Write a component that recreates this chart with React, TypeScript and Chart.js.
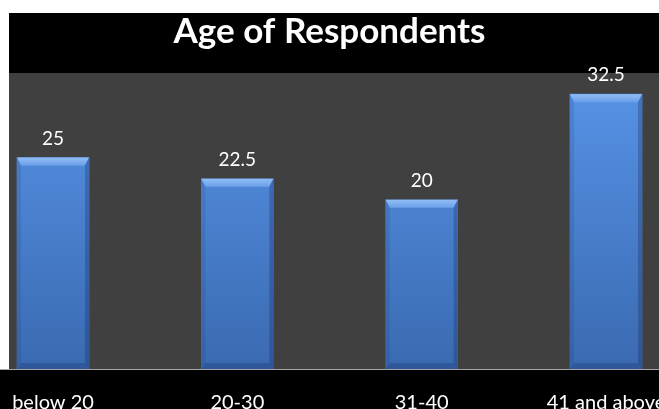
import React, { useEffect, useRef } from "react";
import { Chart, registerables } from "chart.js";
Chart.register(...registerables);

const categories = ["below 20", "20-30", "31-40", "41 and above"];
const values = [25, 22.5, 20, 32.5];
const titleText = "Age of Respondents";
const yMax = 35;

const FONT = "Lato, 'Open Sans', sans-serif";

export default function App() {
  const ref = useRef<HTMLCanvasElement>(null);

  useEffect(() => {
    const canvas = ref.current!;
    const plotLeft = 9;
    const topMargin = 13;
    const catPx = 184.33;
    const firstCenter = 53;
    const W = 659;
    const xMin = -firstCenter / catPx;
    const xMax = xMin + W / catPx;

    const bgPlugin = {
      id: "bgPlugin",
      beforeDraw(chart: any) {
        const { ctx, chartArea: ca, width, height } = chart;
        ctx.save();
        ctx.fillStyle = "#ffffff";
        ctx.fillRect(0, 0, width, height);
        ctx.fillStyle = "#000000";
        ctx.fillRect(plotLeft, topMargin, width - plotLeft, ca.bottom - topMargin);
        ctx.fillRect(0, ca.bottom, width, height - ca.bottom);
        ctx.fillStyle = "#404040";
        ctx.fillRect(plotLeft, ca.top, width - plotLeft, ca.bottom - ca.top);
        ctx.restore();
      },
    };

    const bevelPlugin = {
      id: "bevelPlugin",
      afterDatasetsDraw(chart: any) {
        const { ctx } = chart;
        const meta = chart.getDatasetMeta(0);
        ctx.save();
        meta.data.forEach((bar: any, i: number) => {
          const { x, y, base, width } = bar.getProps(["x", "y", "base", "width"], true);
          const l = x - width / 2;
          const r = x + width / 2;
          const t = y;
          const b = base;
          const bt = 8;
          const bs = 4;
          const bb = 6;
          const gt = ctx.createLinearGradient(0, t, 0, t + bt);
          gt.addColorStop(0, "#92bdf5");
          gt.addColorStop(1, "#6a9fea");
          ctx.fillStyle = gt;
          ctx.beginPath();
          ctx.moveTo(l, t);
          ctx.lineTo(r, t);
          ctx.lineTo(r - bs, t + bt);
          ctx.lineTo(l + bs, t + bt);
          ctx.closePath();
          ctx.fill();
          ctx.fillStyle = "rgba(20,40,90,0.12)";
          ctx.beginPath();
          ctx.moveTo(l, t);
          ctx.lineTo(l + bs, t + bt);
          ctx.lineTo(l + bs, b - bb);
          ctx.lineTo(l, b);
          ctx.closePath();
          ctx.fill();
          ctx.fillStyle = "rgba(10,25,70,0.25)";
          ctx.beginPath();
          ctx.moveTo(r, t);
          ctx.lineTo(r - bs, t + bt);
          ctx.lineTo(r - bs, b - bb);
          ctx.lineTo(r, b);
          ctx.closePath();
          ctx.fill();
          ctx.fillStyle = "rgba(10,25,70,0.22)";
          ctx.beginPath();
          ctx.moveTo(l, b);
          ctx.lineTo(l + bs, b - bb);
          ctx.lineTo(r - bs, b - bb);
          ctx.lineTo(r, b);
          ctx.closePath();
          ctx.fill();

          ctx.fillStyle = "#ffffff";
          ctx.font = `19px ${FONT}`;
          ctx.textAlign = "center";
          ctx.textBaseline = "alphabetic";
          ctx.fillText(String(values[i]), x, t - 13);
        });
        ctx.restore();
      },
    };

    const chart = new Chart(canvas, {
      type: "bar",
      data: {
        datasets: [
          {
            data: values.map((v, i) => ({ x: i, y: v })),
            barThickness: 72,
            borderWidth: 0,
            backgroundColor: (c: any) => {
              const { ctx, chartArea } = c.chart;
              if (!chartArea) return "#4a80d0";
              const g = ctx.createLinearGradient(0, chartArea.top, 0, chartArea.bottom);
              g.addColorStop(0, "#5894e8");
              g.addColorStop(1, "#3a6ab1");
              return g;
            },
          },
        ],
      },
      options: {
        responsive: false,
        animation: false,
        devicePixelRatio: 1,
        layout: { padding: 0 },
        plugins: {
          legend: { display: false },
          tooltip: { enabled: false },
          title: {
            display: true,
            text: titleText,
            color: "#ffffff",
            font: { family: FONT, size: 35, weight: "bold", lineHeight: 1.2 },
            padding: { top: 10.5, bottom: 20.5 },
          },
        },
        scales: {
          x: {
            type: "linear",
            min: xMin,
            max: xMax,
            offset: false,
            grid: { display: false, drawTicks: false },
            border: { display: true, color: "#a6a6a6", width: 1 },
            afterBuildTicks: (scale: any) => {
              scale.ticks = categories.map((_, i) => ({ value: i }));
            },
            afterFit: (scale: any) => {
              scale.paddingLeft = 0;
              scale.paddingRight = 0;
              scale.height = 40;
            },
            ticks: {
              color: "#ffffff",
              padding: 24,
              maxRotation: 0,
              autoSkip: false,
              font: { family: FONT, size: 20, lineHeight: 1.0 },
              callback: (v: any) => categories[v as number] ?? "",
            },
          },
          y: {
            display: false,
            min: 0,
            max: yMax,
          },
        },
      },
      plugins: [bgPlugin, bevelPlugin],
    } as any);

    return () => chart.destroy();
  }, []);

  return (
    <div style={{ position: "fixed", left: 0, top: 0, width: 659, height: 409, overflow: "hidden", background: "#fff" }}>
      <canvas ref={ref} width={659} height={409} style={{ width: 659, height: 409, display: "block" }} />
    </div>
  );
}
